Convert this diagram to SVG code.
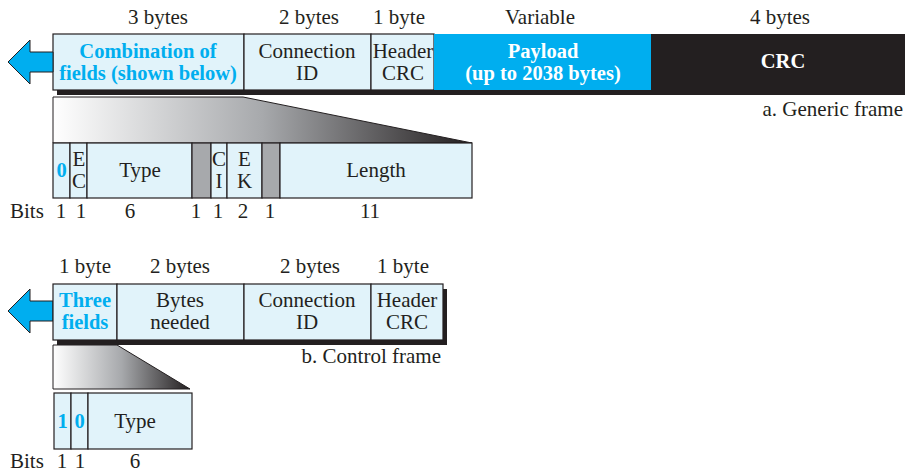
<svg xmlns="http://www.w3.org/2000/svg" width="912" height="472" viewBox="0 0 912 472">
<defs>
<linearGradient id="fan" x1="0" y1="0" x2="1" y2="0">
<stop offset="0" stop-color="#ffffff"/>
<stop offset="0.5" stop-color="#a7a9ac"/>
<stop offset="1" stop-color="#231f20"/>
</linearGradient>
<style>
text{font-family:"Liberation Serif","Times New Roman",serif;font-size:21px;fill:#231f20;text-anchor:middle}
.b{font-weight:bold;font-size:20.5px}
.c{fill:#00aeef}
.w{fill:#ffffff}
.cell{fill:#e1f3fa;stroke:#231f20;stroke-width:1.2}
.gray{fill:#a7a9ac;stroke:#231f20;stroke-width:1.2}
.shadow{fill:#231f20}
.arrow{fill:#00aeef;stroke:#231f20;stroke-width:1}
.fan{fill:url(#fan);stroke:#231f20;stroke-width:1}
.r{text-anchor:end}
.s{text-anchor:start}
</style>
</defs>

<g id="generic-frame">
<rect class="shadow" x="57" y="38" width="848" height="57"/>
<g id="gen-fields">
<rect class="cell" x="53" y="34" width="191" height="56"/>
<rect class="cell" x="244" y="34" width="127" height="56"/>
<rect class="cell" x="371" y="34" width="63" height="56"/>
<rect x="434" y="34" width="217" height="56" fill="#00aeef"/>
<rect x="651" y="34" width="254" height="56" fill="#231f20"/>
</g>
<text x="158" y="24">3 bytes</text>
<text x="309" y="24">2 bytes</text>
<text x="399" y="24">1 byte</text>
<text x="540" y="24">Variable</text>
<text x="780" y="24">4 bytes</text>
<text class="b c" x="148" y="58">Combination of</text>
<text class="b c" x="148" y="80">fields (shown below)</text>
<text x="307" y="58">Connection</text>
<text x="307" y="80">ID</text>
<text x="403" y="58">Header</text>
<text x="403" y="80">CRC</text>
<text class="b w" x="543" y="58">Payload</text>
<text class="b w" x="543" y="80">(up to 2038 bytes)</text>
<text class="b w" x="783" y="68">CRC</text>
<text class="r" x="903" y="116">a. Generic frame</text>
</g>

<g id="connectors">
<path class="arrow" d="M53,52 L30,52 L30,40 L8,62 L30,84 L30,72 L53,72 Z"/>
<path class="arrow" d="M53,301 L30,301 L30,289 L8,311 L30,333 L30,321 L53,321 Z"/>
<path class="fan" d="M53,97 L243,97 L472,143 L53,143 Z"/>
<path class="fan" d="M53,345 L117,345 L190,389 L53,389 Z"/>
</g>

<g id="generic-bits">
<rect class="cell" x="53" y="143" width="17" height="55"/>
<rect class="cell" x="70" y="143" width="17" height="55"/>
<rect class="cell" x="87" y="143" width="105" height="55"/>
<rect class="gray" x="192" y="143" width="19" height="55"/>
<rect class="cell" x="211" y="143" width="16" height="55"/>
<rect class="cell" x="227" y="143" width="35" height="55"/>
<rect class="gray" x="262" y="143" width="18" height="55"/>
<rect class="cell" x="280" y="143" width="192" height="55"/>
<text class="b c" x="61.5" y="177">0</text>
<text x="79" y="166">E</text>
<text x="79" y="188">C</text>
<text x="140" y="177">Type</text>
<text x="219" y="166">C</text>
<text x="219" y="188">I</text>
<text x="244.5" y="166">E</text>
<text x="244.5" y="188">K</text>
<text x="376" y="177">Length</text>
<text class="s" x="10" y="218">Bits</text>
<text x="61" y="218">1</text>
<text x="81" y="218">1</text>
<text x="130" y="218">6</text>
<text x="196" y="218">1</text>
<text x="218" y="218">1</text>
<text x="243" y="218">2</text>
<text x="270" y="218">1</text>
<text x="370" y="218">11</text>
</g>

<g id="control-frame">
<rect class="shadow" x="57" y="289" width="390" height="56"/>
<rect class="cell" x="53" y="284" width="64" height="56"/>
<rect class="cell" x="117" y="284" width="127" height="56"/>
<rect class="cell" x="244" y="284" width="127" height="56"/>
<rect class="cell" x="371" y="284" width="72" height="56"/>
<text x="85" y="273">1 byte</text>
<text x="180" y="273">2 bytes</text>
<text x="310" y="273">2 bytes</text>
<text x="403" y="273">1 byte</text>
<text class="b c" x="85" y="307">Three</text>
<text class="b c" x="85" y="329">fields</text>
<text x="180" y="307">Bytes</text>
<text x="180" y="329">needed</text>
<text x="307" y="307">Connection</text>
<text x="307" y="329">ID</text>
<text x="407" y="307">Header</text>
<text x="407" y="329">CRC</text>
<text class="r" x="441" y="363">b. Control frame</text>
</g>

<g id="control-bits">
<rect class="cell" x="54" y="393" width="17" height="56"/>
<rect class="cell" x="71" y="393" width="17" height="56"/>
<rect class="cell" x="88" y="393" width="104" height="56"/>
<text class="b c" x="62.5" y="428">1</text>
<text class="b c" x="79.5" y="428">0</text>
<text x="135" y="428">Type</text>
<text class="s" x="10" y="468">Bits</text>
<text x="62" y="468">1</text>
<text x="80" y="468">1</text>
<text x="135" y="468">6</text>
</g>
</svg>
